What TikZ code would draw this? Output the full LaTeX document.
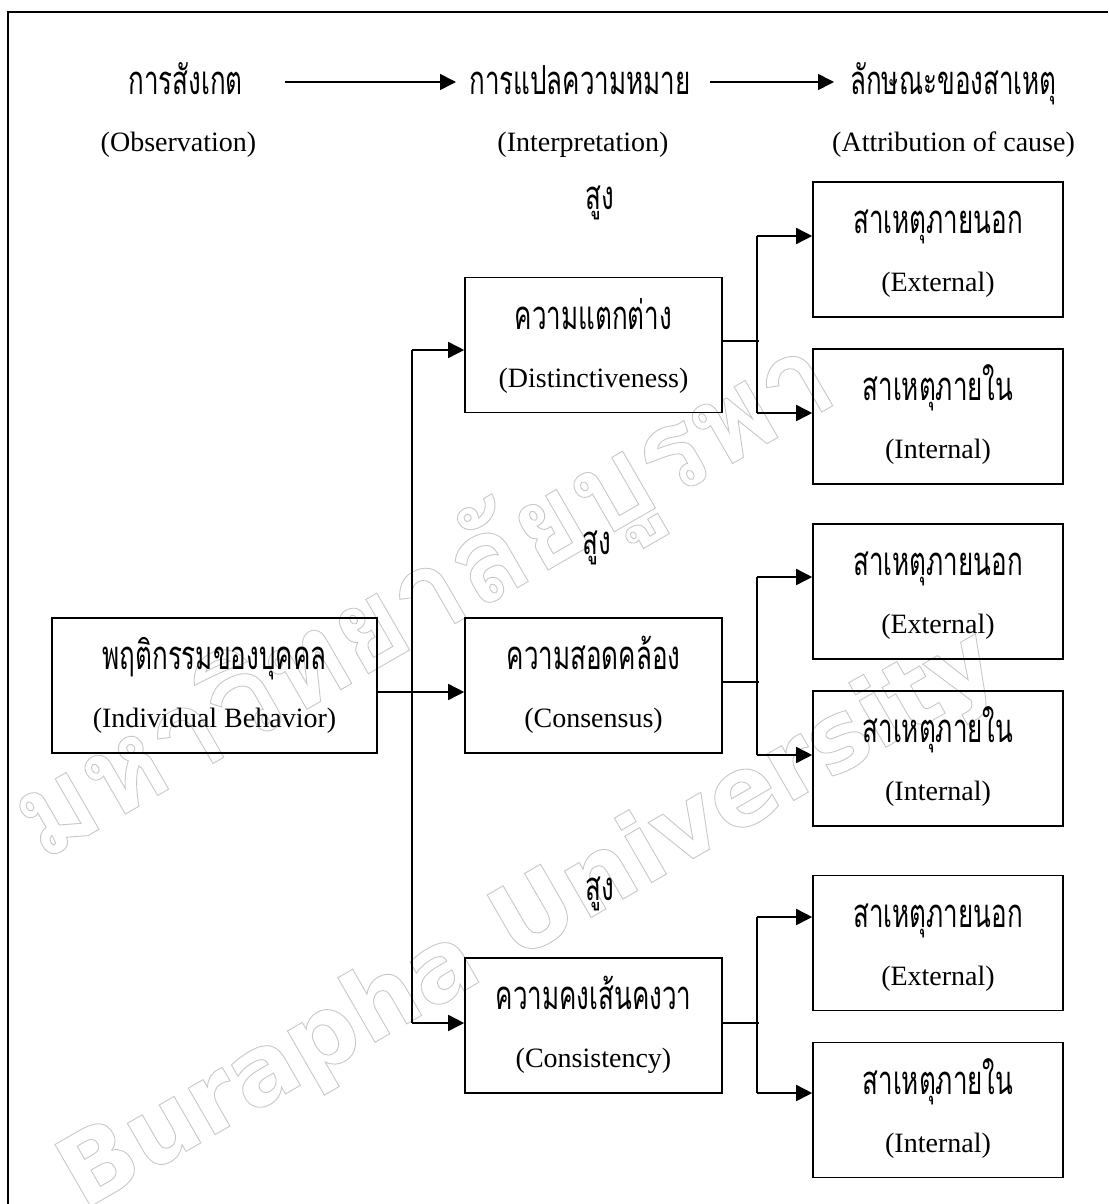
\documentclass[tikz,border=0pt]{standalone}
\usepackage{fontspec}
\setmainfont{Liberation Serif}
\newfontfamily\thaifont[Script=Thai,FakeStretch=0.65]{Loma}
\newfontfamily\wmthai[Script=Thai]{Loma}
\newfontfamily\wmlat{DejaVu Sans}
\usetikzlibrary{arrows.meta,calc}
\newcommand\outlinetext[1]{\special{pdf:literal direct 1 Tr 0.9 w}#1\special{pdf:literal direct 0 Tr}}
\tikzset{
  framebox/.style={draw, line width=1.6pt, inner sep=0pt, minimum height=135pt},
  th/.style={font=\thaifont\fontsize{40}{40}\selectfont, anchor=base, inner sep=0pt},
  en/.style={font=\fontsize{28}{30}\selectfont, anchor=base, inner sep=0pt},
  conn/.style={line width=1.6pt},
  arr/.style={conn, -{Triangle[length=16pt,width=16pt]}},
  wm/.style={text=black!22, inner sep=0pt, rotate=30},
}
\newcommand\tbox[6]{%
  \node[framebox, minimum width=#4pt] (#1) at (#2,#3) {};
  \node[th] (#1t) at ($(#1.center)+(0,-16)$) {#5};
  \node[en] (#1e) at ($(#1.center)+(0,42)$) {#6};
}
\begin{document}
\begin{tikzpicture}[x=1pt,y=-1pt]
\useasboundingbox (0,0) rectangle (1108,1204);
% watermark
\node[wm, font=\wmthai\bfseries\fontsize{118}{118}\selectfont] (wm1) at (425,602) {\outlinetext{มหาวิทยาลัยบูรพา}};
\node[wm, font=\wmlat\bfseries\fontsize{98}{98}\selectfont] (wm2) at (530,922) {\outlinetext{Burapha University}};
% frame
\draw[line width=2pt] (8,1204) -- (8,12) -- (1108,12);
% header
\node[th] (h1) at (185.5,95) {การสังเกต};
\node[th] (h2) at (580,95) {การแปลความหมาย};
\node[th] (h3) at (953.5,95) {ลักษณะของสาเหตุ};
\node[en] (e1) at (178.5,151) {(Observation)};
\node[en] (e2) at (583,151) {(Interpretation)};
\node[en] (e3) at (953.5,151) {(Attribution of cause)};
\coordinate (a1) at (285,82);
\coordinate (a2) at (456,82);
\coordinate (a3) at (710,82);
\coordinate (a4) at (834,82);
\draw[arr] (a1) -- (a2);
\draw[arr] (a3) -- (a4);
% boxes
\tbox{IB}{214.5}{685.5}{325}{พฤติกรรมของบุคคล}{(Individual Behavior)}
\tbox{D}{593.5}{345}{257}{ความแตกต่าง}{(Distinctiveness)}
\tbox{C}{593.5}{685.5}{257}{ความสอดคล้อง}{(Consensus)}
\tbox{K}{593.5}{1025.5}{257}{ความคงเส้นคงวา}{(Consistency)}
\tbox{E1}{938}{249.5}{250}{สาเหตุภายนอก}{(External)}
\tbox{I1}{938}{416.5}{250}{สาเหตุภายใน}{(Internal)}
\tbox{E2}{938}{591.5}{250}{สาเหตุภายนอก}{(External)}
\tbox{I2}{938}{758.5}{250}{สาเหตุภายใน}{(Internal)}
\tbox{E3}{938}{943}{250}{สาเหตุภายนอก}{(External)}
\tbox{I3}{938}{1110}{250}{สาเหตุภายใน}{(Internal)}
% high labels
\node[th] (s1) at (600,209) {สูง};
\node[th] (s2) at (597,554) {สูง};
\node[th] (s3) at (600,900) {สูง};
% trunk
\coordinate (tt) at (412,350);
\coordinate (tb) at (412,1023);
\draw[conn] (tt) -- (tb);
\draw[arr] (tt) -- (tt -| D.west);
\draw[arr] (tb) -- (tb -| K.west);
\draw[arr] ($(IB.east)+(0,6.5)$) -- ($(C.west)+(0,6.5)$);
% branches
\coordinate (Du) at (757,236);
\coordinate (Dd) at (757,413);
\draw[conn] ($(D.east)+(0,-4)$) -- ($(D.east)+(36,-4)$);
\draw[conn] (Du) -- (Dd);
\draw[arr] (Du) -- (Du -| E1.west);
\draw[arr] (Dd) -- (Dd -| I1.west);
\coordinate (Cu) at (757,577);
\coordinate (Cd) at (757,755);
\draw[conn] ($(C.east)+(0,-3.5)$) -- ($(C.east)+(36,-3.5)$);
\draw[conn] (Cu) -- (Cd);
\draw[arr] (Cu) -- (Cu -| E2.west);
\draw[arr] (Cd) -- (Cd -| I2.west);
\coordinate (Ku) at (757,917);
\coordinate (Kd) at (757,1093);
\draw[conn] ($(K.east)+(0,-2.5)$) -- ($(K.east)+(36,-2.5)$);
\draw[conn] (Ku) -- (Kd);
\draw[arr] (Ku) -- (Ku -| E3.west);
\draw[arr] (Kd) -- (Kd -| I3.west);
\end{tikzpicture}
\end{document}
